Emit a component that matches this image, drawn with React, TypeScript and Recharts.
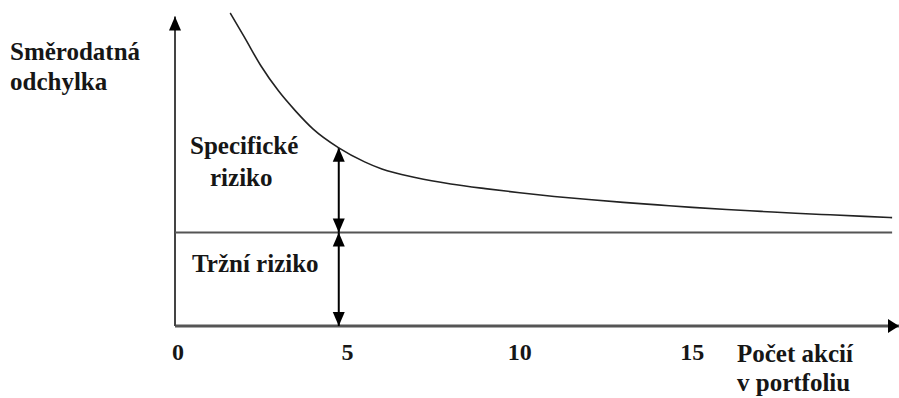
import React from "react";
import { LineChart, Line, XAxis, YAxis, ReferenceLine } from "recharts";

// počet akcií v portfoliu a odpovídající směrodatná odchylka
const pocetAkcii = [1.6, 2, 2.5, 3, 3.5, 4, 4.75, 5.5, 6, 7, 8, 9, 10, 11, 12, 13, 14, 15, 16, 17, 18, 19, 20, 20.8];
const odchylka = [10.05, 9.3, 8.34, 7.55, 6.9, 6.33, 5.72, 5.27, 5.04, 4.76, 4.56, 4.41, 4.28, 4.16, 4.06, 3.97, 3.89, 3.81, 3.74, 3.68, 3.62, 3.57, 3.52, 3.48];
const trzniRiziko = 3;
const xTicks = [0, 5, 10, 15];
const sipkaX = 4.75;

const data = pocetAkcii.map((x, i) => ({ x, y: odchylka[i] }));
const sipkaTop = odchylka[pocetAkcii.indexOf(sipkaX)];

const FONT = "Liberation Serif, Tinos, Times New Roman, DejaVu Serif, serif";
const TEXT_COLOR = "#161616";

// line with filled arrowheads at chosen ends
const arrowLine =
  (opts: { start?: boolean; end?: boolean; color: string; width: number; head?: number; len?: number }) =>
  (props: any) => {
    const { x1, y1, x2, y2 } = props;
    const head = opts.head ?? 6;
    const len = opts.len ?? 14;
    const dx = x2 - x1;
    const dy = y2 - y1;
    const L = Math.hypot(dx, dy) || 1;
    const ux = dx / L;
    const uy = dy / L;
    const px = -uy;
    const py = ux;
    const tri = (tx: number, ty: number, dir: number) => {
      const bx = tx - dir * ux * len;
      const by = ty - dir * uy * len;
      return `${tx},${ty} ${bx + px * head},${by + py * head} ${bx - px * head},${by - py * head}`;
    };
    return (
      <g>
        <line x1={x1} y1={y1} x2={x2} y2={y2} stroke={opts.color} strokeWidth={opts.width} />
        {opts.start && <polygon points={tri(x1, y1, -1)} fill="#000" />}
        {opts.end && <polygon points={tri(x2, y2, 1)} fill="#000" />}
      </g>
    );
  };

const TickLabel = (props: any) => {
  const { x, payload } = props;
  return (
    <text
      x={x + (payload.value === 0 ? 3 : 0)}
      y={360}
      textAnchor="middle"
      style={{ fontFamily: FONT, fontWeight: "bold", fontSize: 24 }}
      fill={TEXT_COLOR}
    >
      {payload.value}
    </text>
  );
};

const Label = ({ left, baseline, children }: { left: number; baseline: number; children: React.ReactNode }) => (
  <div
    style={{
      position: "absolute",
      left,
      top: baseline - 21,
      fontFamily: FONT,
      fontWeight: "bold",
      fontSize: 25,
      lineHeight: "25px",
      color: TEXT_COLOR,
      whiteSpace: "nowrap",
    }}
  >
    {children}
  </div>
);

export default function App() {
  return (
    <div style={{ position: "absolute", left: 0, top: 0, width: 899, height: 398, background: "#fff" }}>
      <LineChart width={899} height={398} data={data} margin={{ top: 13, right: 0, bottom: 42, left: 175 }}>
        <XAxis
          type="number"
          dataKey="x"
          domain={[0, 21]}
          ticks={xTicks}
          height={30}
          axisLine={false}
          tickLine={false}
          tick={<TickLabel />}
          allowDataOverflow
        />
        <YAxis type="number" domain={[0, 10]} hide />
        {/* osa x a osa y se šipkami */}
        <ReferenceLine
          segment={[{ x: 0, y: 0 }, { x: 21, y: 0 }]}
          ifOverflow="visible"
          shape={arrowLine({ end: true, color: "#555", width: 3, head: 7, len: 11 })}
        />
        <ReferenceLine
          segment={[{ x: 0, y: 0 }, { x: 0, y: 9.94 }]}
          ifOverflow="visible"
          shape={arrowLine({ end: true, color: "#444", width: 2, head: 6, len: 14 })}
        />
        {/* tržní riziko */}
        <ReferenceLine
          segment={[{ x: 0, y: trzniRiziko }, { x: 20.8, y: trzniRiziko }]}
          ifOverflow="visible"
          stroke="#555"
          strokeWidth={2}
        />
        <ReferenceLine
          segment={[{ x: sipkaX, y: 0 }, { x: sipkaX, y: trzniRiziko }]}
          ifOverflow="visible"
          shape={arrowLine({ start: true, end: true, color: "#000", width: 2, head: 6, len: 14 })}
        />
        <ReferenceLine
          segment={[{ x: sipkaX, y: trzniRiziko }, { x: sipkaX, y: sipkaTop }]}
          ifOverflow="visible"
          shape={arrowLine({ start: true, end: true, color: "#000", width: 2, head: 6, len: 14 })}
        />
        <Line
          type="monotone"
          dataKey="y"
          stroke="#222"
          strokeWidth={1.6}
          dot={false}
          isAnimationActive={false}
        />
      </LineChart>
      <Label left={10} baseline={60}>Směrodatná</Label>
      <Label left={10} baseline={90}>odchylka</Label>
      <Label left={190} baseline={154}>Specifické</Label>
      <Label left={210} baseline={186}>riziko</Label>
      <Label left={192} baseline={272}>Tržní riziko</Label>
      <Label left={737} baseline={362}>Počet akcií</Label>
      <Label left={737} baseline={391}>v portfoliu</Label>
    </div>
  );
}
